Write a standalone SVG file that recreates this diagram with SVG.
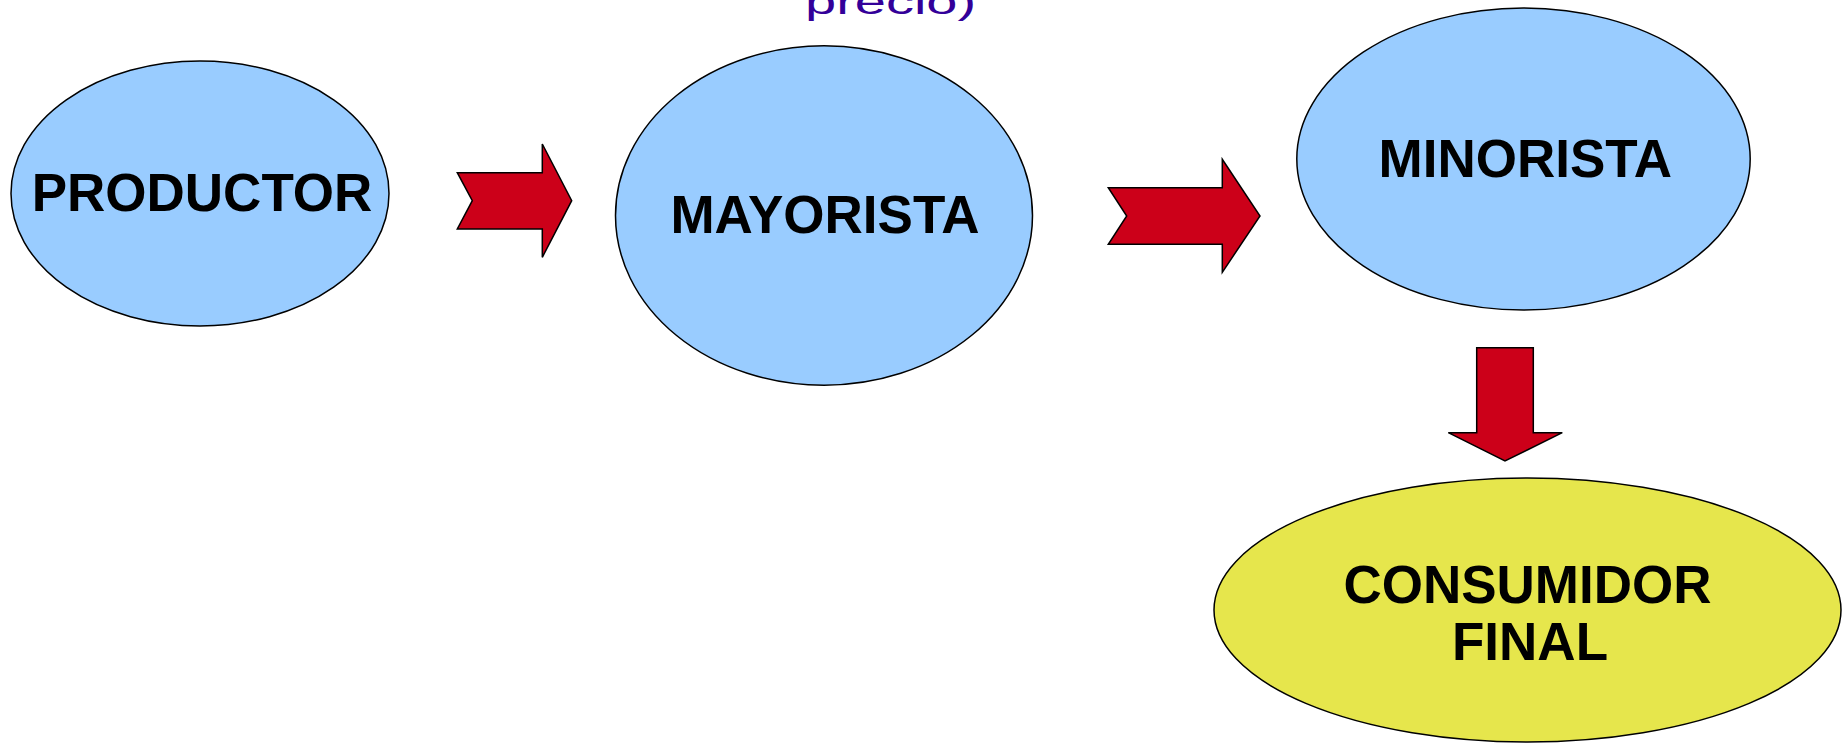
<svg xmlns="http://www.w3.org/2000/svg" width="1842" height="746" viewBox="0 0 1842 746">
<style>
.node ellipse{stroke:#000;stroke-width:1.5}
.blue{fill:#99CCFF}
.yellow{fill:#E6E64C}
.lbl{font-family:"Liberation Sans",Arial,sans-serif;font-weight:bold;font-size:53px;fill:#000;text-anchor:middle}
.arrow{fill:#CC0019;stroke:#000;stroke-width:1.5;stroke-linejoin:miter}
.title{font-family:"Liberation Sans",Arial,sans-serif;font-size:56px;fill:#330099}
</style>
<rect width="1842" height="746" fill="#fff"/>
<text class="title" transform="translate(805,13.5) scale(1,0.62)">precio)</text>
<g id="connectors">
<polygon class="arrow" points="457.3,172.7 542.3,172.7 542.3,144 571.7,200.7 542.3,257.3 542.3,229 457.3,229 472.3,200.7"/>
<polygon class="arrow" points="1108.3,187.7 1222.3,187.7 1222.3,159.3 1260,216 1222.3,272.3 1222.3,244.3 1108.3,244.3 1126.7,216"/>
<polygon class="arrow" points="1476.7,347.7 1533.3,347.7 1533.3,432.7 1562.3,432.7 1505,461 1448.3,432.7 1476.7,432.7"/>
</g>
<g id="productor" class="node">
<ellipse class="blue" cx="200" cy="193.5" rx="189" ry="132.5"/>
<text class="lbl" x="202" y="211">PRODUCTOR</text>
</g>
<g id="mayorista" class="node">
<ellipse class="blue" cx="824" cy="215.5" rx="208.5" ry="169.7"/>
<text class="lbl" x="825" y="233.3">MAYORISTA</text>
</g>
<g id="minorista" class="node">
<ellipse class="blue" cx="1523.5" cy="159" rx="226.7" ry="151"/>
<text class="lbl" x="1525.3" y="177.3">MINORISTA</text>
</g>
<g id="consumidor" class="node">
<ellipse class="yellow" cx="1527.5" cy="610" rx="313.5" ry="132"/>
<text class="lbl" x="1527.5" y="603.3">CONSUMIDOR</text>
<text class="lbl" x="1530" y="660">FINAL</text>
</g>
</svg>
